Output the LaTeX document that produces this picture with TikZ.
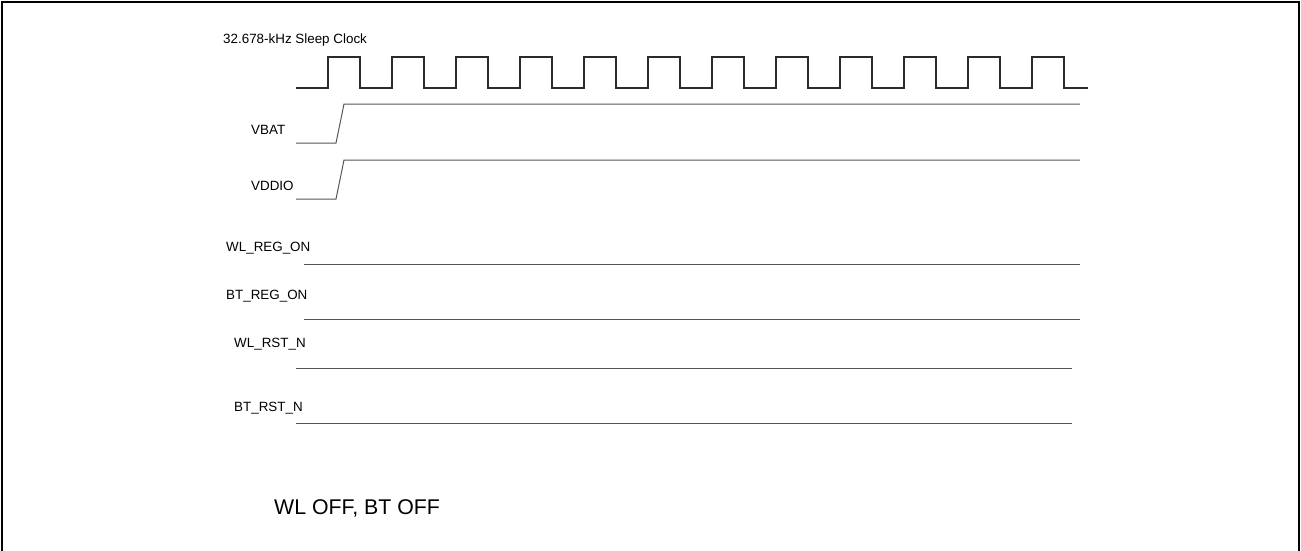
\documentclass[tikz,border=0pt]{standalone}
\usepackage{fontspec}
\setmainfont{Liberation Sans}
\usetikzlibrary{positioning}
\usepackage{xcolor}
\definecolor{traceDark}{HTML}{2A2A2A}
\definecolor{traceGray}{HTML}{555555}

\begin{document}
\begin{tikzpicture}[x=1pt,y=-1pt]
\tikzstyle{siglabel}=[anchor=base west,inner sep=0pt,font=\fontsize{13.4}{15}\selectfont]
\tikzstyle{trace}=[draw=traceGray,line width=1pt]
\useasboundingbox (0,0) rectangle (1301,550);
\draw[line width=2pt] (2,552) -- (2,2) -- (1299,2) -- (1299,552);
% signal names
\node[siglabel] (clklbl) at (223,43) {32.678-kHz Sleep Clock};
\node[siglabel] (vbatlbl) at (251,134) {VBAT};
\node[siglabel] (vddiolbl) at (251,190) {VDDIO};
\node[siglabel] (wlreglbl) at (226,251) {WL\_REG\_ON};
\node[siglabel] (btreglbl) at (226,299) {BT\_REG\_ON};
\node[siglabel] (wlrstlbl) at (234,347) {WL\_RST\_N};
\node[siglabel] (btrstlbl) at (234,411) {BT\_RST\_N};
\node[anchor=base west,inner sep=0pt,font=\fontsize{21.3}{24}\selectfont] (statelbl) at (274,514.5) {WL OFF, BT OFF};
% sleep clock
\draw[trace,draw=traceDark,line width=1.1pt] (296,88) \foreach \k in {0,...,11}{ -- ({328+64*\k},88) -- ({328+64*\k},57) -- ({360+64*\k},57) -- ({360+64*\k},88)} -- (1088,88);
% supplies
\foreach \lo/\hi in {143/104,199/160}{\draw[trace] (296,\lo) -- (336,\lo) -- (344,\hi) -- (1080,\hi);}
% control lines, all held low
\foreach \xa/\xb/\y in {304/1080/264,304/1080/319,296/1072/368,296/1072/423}{\draw[trace] (\xa,\y) -- (\xb,\y);}
\end{tikzpicture}
\end{document}
